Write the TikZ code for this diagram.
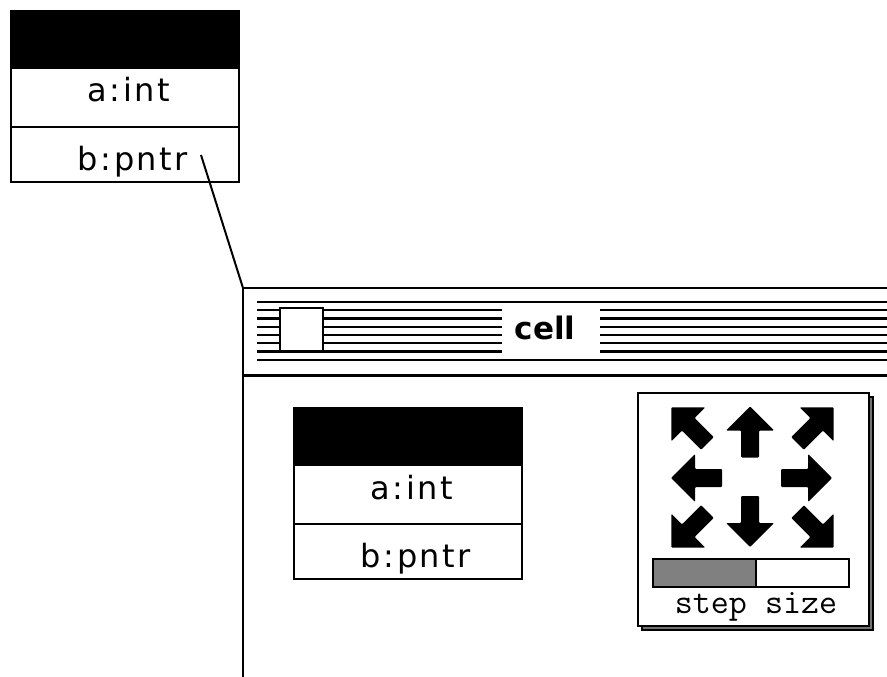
\documentclass[tikz,border=0pt]{standalone}
\usepackage{fontspec}
\newfontfamily\labelfont[LetterSpace=8]{DejaVu Sans}
\newfontfamily\titlefont{DejaVu Sans}
\begin{document}
\begin{tikzpicture}[x=1pt,y=-1pt,
  frame/.style={line width=2.2pt},
  classrow/.style={draw, line width=2.2pt, minimum width=228pt, inner sep=0pt, anchor=north west},
  field/.style={font=\labelfont\fontsize{32}{34}\selectfont, anchor=base, inner sep=0pt},
  stripe/.style={line width=2.1pt},
  arrowshape/.style={fill=black, rounded corners=1pt},
]
\useasboundingbox (0,0) rectangle (887,677);

% ---- standalone record: header band, int field, pointer field
\node[classrow, fill=black, minimum height=57pt] (r1h) at (10,10) {};
\node[classrow, fill=white, minimum height=59pt] (r1a) at (10,67) {};
\node[classrow, fill=white, minimum height=55pt] (r1b) at (10,126) {};
\node[field] (r1atext) at (129,102) {a:int};
\node[field] (r1btext) at (133,170) {b:pntr};
\coordinate (ptr) at (201,155);

% ---- window frame
\coordinate (win) at (243,288);
\draw[frame] (887,288) -- (win) -- (243,677);
\draw[frame] (243,375.5) -- (887,375.5);

% title bar stripes
\foreach \i in {0,7} {
  \draw[stripe] (257,302+8.25*\i) -- (887,302+8.25*\i);
}
\foreach \i in {1,...,6} {
  \draw[stripe] (257,302+8.25*\i) -- (502,302+8.25*\i);
  \draw[stripe] (600,302+8.25*\i) -- (887,302+8.25*\i);
}
\node[draw, fill=white, line width=2pt, minimum width=43pt, minimum height=43pt, inner sep=0pt] (closebox) at (301.5,329.5) {};
\node[font=\titlefont\bfseries\fontsize{31}{33}\selectfont, anchor=base, inner sep=0pt] (title) at (545,339) {cell};

% ---- record inside the window
\node[classrow, fill=black, minimum height=57pt] (r2h) at (293,407) {};
\node[classrow, fill=white, minimum height=59pt] (r2a) at (293,464) {};
\node[classrow, fill=white, minimum height=55pt] (r2b) at (293,523) {};
\node[field] (r2atext) at (412,499) {a:int};
\node[field] (r2btext) at (416,567) {b:pntr};

% ---- pointer link
\draw[line width=2pt] (ptr) -- (win);

% ---- step control panel
\draw[line width=1.6pt, fill=gray!90!black] (642,397) rectangle (873,630);
\node[draw, line width=2pt, fill=white, minimum width=231pt, minimum height=233pt, inner sep=0pt, anchor=north west] (panel) at (637,392) {};

% direction arrows
\foreach \cx/\cy/\ang in {750/432.5/90, 750/521/270, 697/478/180, 806/478/0,
                          689.7/425.7/135, 815.3/425.7/45, 689.7/529.3/225, 815.3/529.3/-45} {
  \begin{scope}[shift={(\cx,\cy)}, rotate=\ang]
    \fill[arrowshape] (26,0) -- (2,24) -- (2,9) -- (-25,9) -- (-25,-9) -- (2,-9) -- (2,-24) -- cycle;
  \end{scope}
}

% step size slider
\fill[gray] (653,559) rectangle (756,587);
\draw[line width=2.2pt] (653,559) rectangle (849,587);
\draw[line width=2.2pt] (756,559) -- (756,587);
\node[font=\ttfamily\fontsize{35}{37}\selectfont, anchor=base, inner sep=0pt] (steplabel) at (756,613) {step size};
\end{tikzpicture}
\end{document}
